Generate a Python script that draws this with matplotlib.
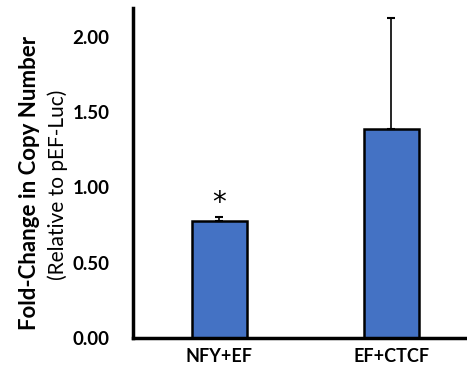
import matplotlib.pyplot as plt

# data
groups = ['NFY+EF', 'EF+CTCF']
fold_change = [0.78, 1.39]
err_upper = [0.025, 0.73]
yticks = [0.0, 0.5, 1.0, 1.5, 2.0]

plt.rcParams['font.family'] = ['Lato', 'DejaVu Sans']

fig = plt.figure(figsize=(4.67, 3.77), dpi=100)
ax = fig.add_axes([0.285, 0.103, 0.715, 0.876])

x = range(len(groups))
ax.bar(x, fold_change, width=0.32, color='#4472C4', edgecolor='black', linewidth=1.8,
       yerr=[[0, 0], err_upper], error_kw=dict(ecolor='black', elinewidth=1.2, capsize=3, capthick=1.5))

# significance mark
ax.text(0, fold_change[0] + err_upper[0], '*', ha='center', va='bottom', fontsize=20,
        family='DejaVu Sans')

ax.set_xlim(-0.5, 1.44)
ax.set_ylim(0, 2.19)
ax.set_xticks(list(x))
ax.set_xticklabels(groups, fontsize=13, fontweight='bold')
ax.set_yticks(yticks)
ax.set_yticklabels([f'{v:.2f}' for v in yticks], fontsize=13.5, fontweight='bold')
ax.tick_params(axis='both', length=0)
ax.tick_params(axis='y', pad=17)
ax.tick_params(axis='x', pad=7)

for s in ['top', 'right']:
    ax.spines[s].set_visible(False)
ax.spines['left'].set_linewidth(2.5)
ax.spines['bottom'].set_linewidth(2.5)

fig.text(0.064, 0.515, 'Fold-Change in Copy Number', rotation=90, ha='center', va='center',
         fontsize=16, fontweight='bold')
fig.text(0.124, 0.51, '(Relative to pEF-Luc)', rotation=90, ha='center', va='center',
         fontsize=15)

fig.savefig('out.png', dpi=100)
